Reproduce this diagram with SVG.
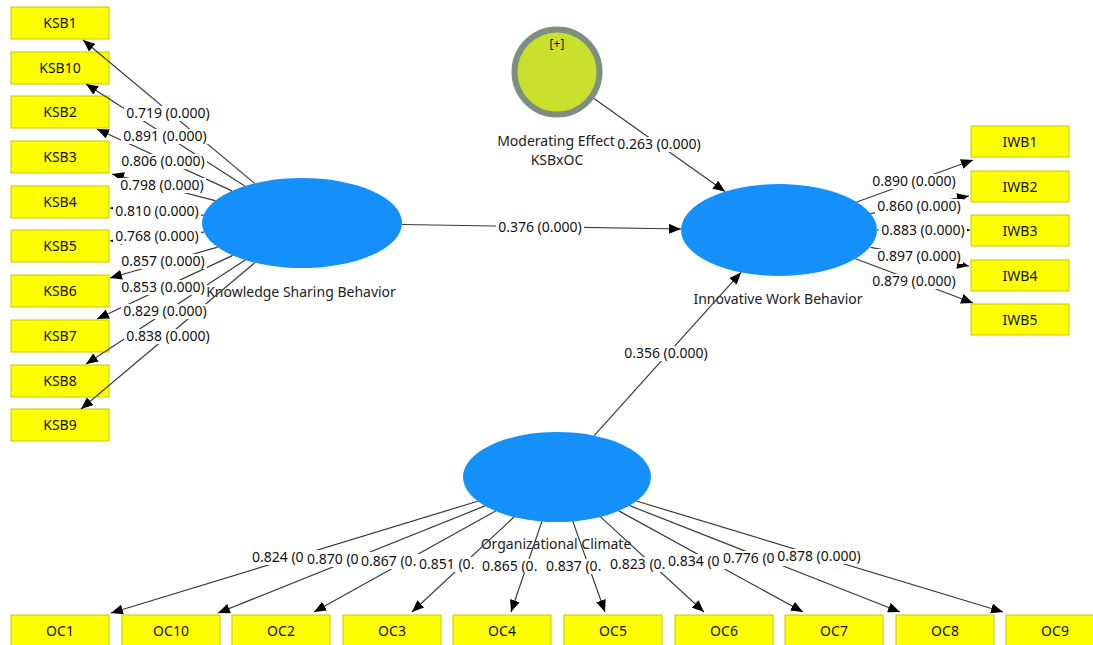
<svg xmlns="http://www.w3.org/2000/svg" width="1093" height="645" viewBox="0 0 1093 645">
<style>
text{font-family:"Noto Sans","Open Sans","DejaVu Sans",sans-serif;font-size:14px;fill:#111}
.box{fill:#ffff00;stroke:#c8c800;stroke-width:1}
.lv{fill:#1590fa}
.bt{text-anchor:middle}
.cl{text-anchor:middle;fill:#222}
.ln{stroke:#3a3a3a;stroke-width:1.2;fill:none;marker-end:url(#ah)}
.bg{fill:#fff}
.lt{text-anchor:middle}
</style>
<defs>
<marker id="ah" markerUnits="userSpaceOnUse" markerWidth="12" markerHeight="10" refX="12" refY="5" orient="auto">
<path d="M0,0 L12,5 L0,10 z" fill="#000"/>
</marker>
</defs>
<rect width="1093" height="645" fill="#fff"/>
<g id="KSB1"><rect class="box" x="11" y="7" width="98" height="32"/><text class="bt" x="60" y="28">KSB1</text></g>
<g id="KSB10"><rect class="box" x="11" y="52" width="98" height="32"/><text class="bt" x="60" y="73">KSB10</text></g>
<g id="KSB2"><rect class="box" x="11" y="96" width="98" height="32"/><text class="bt" x="60" y="117">KSB2</text></g>
<g id="KSB3"><rect class="box" x="11" y="141" width="98" height="32"/><text class="bt" x="60" y="162">KSB3</text></g>
<g id="KSB4"><rect class="box" x="11" y="186" width="98" height="32"/><text class="bt" x="60" y="207">KSB4</text></g>
<g id="KSB5"><rect class="box" x="11" y="230" width="98" height="32"/><text class="bt" x="60" y="251">KSB5</text></g>
<g id="KSB6"><rect class="box" x="11" y="275" width="98" height="32"/><text class="bt" x="60" y="296">KSB6</text></g>
<g id="KSB7"><rect class="box" x="11" y="320" width="98" height="32"/><text class="bt" x="60" y="341">KSB7</text></g>
<g id="KSB8"><rect class="box" x="11" y="365" width="98" height="32"/><text class="bt" x="60" y="386">KSB8</text></g>
<g id="KSB9"><rect class="box" x="11" y="409" width="98" height="32"/><text class="bt" x="60" y="430">KSB9</text></g>
<g id="IWB1"><rect class="box" x="971" y="126" width="98" height="31"/><text class="bt" x="1020" y="147">IWB1</text></g>
<g id="IWB2"><rect class="box" x="971" y="171" width="98" height="31"/><text class="bt" x="1020" y="192">IWB2</text></g>
<g id="IWB3"><rect class="box" x="971" y="215" width="98" height="31"/><text class="bt" x="1020" y="236">IWB3</text></g>
<g id="IWB4"><rect class="box" x="971" y="260" width="98" height="31"/><text class="bt" x="1020" y="281">IWB4</text></g>
<g id="IWB5"><rect class="box" x="971" y="304" width="98" height="31"/><text class="bt" x="1020" y="325">IWB5</text></g>
<g id="OC1"><rect class="box" x="11" y="615" width="98" height="32"/><text class="bt" x="60" y="636">OC1</text></g>
<g id="OC10"><rect class="box" x="122" y="615" width="98" height="32"/><text class="bt" x="171" y="636">OC10</text></g>
<g id="OC2"><rect class="box" x="232" y="615" width="98" height="32"/><text class="bt" x="281" y="636">OC2</text></g>
<g id="OC3"><rect class="box" x="343" y="615" width="98" height="32"/><text class="bt" x="392" y="636">OC3</text></g>
<g id="OC4"><rect class="box" x="453" y="615" width="98" height="32"/><text class="bt" x="502" y="636">OC4</text></g>
<g id="OC5"><rect class="box" x="564" y="615" width="98" height="32"/><text class="bt" x="613" y="636">OC5</text></g>
<g id="OC6"><rect class="box" x="675" y="615" width="98" height="32"/><text class="bt" x="724" y="636">OC6</text></g>
<g id="OC7"><rect class="box" x="785" y="615" width="98" height="32"/><text class="bt" x="834" y="636">OC7</text></g>
<g id="OC8"><rect class="box" x="896" y="615" width="98" height="32"/><text class="bt" x="945" y="636">OC8</text></g>
<g id="OC9"><rect class="box" x="1006" y="615" width="98" height="32"/><text class="bt" x="1055" y="636">OC9</text></g>
<g id="KSB"><ellipse class="lv" cx="302" cy="223" rx="100" ry="45"/><text class="cl" x="301" y="297">Knowledge Sharing Behavior</text></g>
<g id="IWB"><ellipse class="lv" cx="779" cy="230" rx="98" ry="46"/><text class="cl" x="778" y="304">Innovative Work Behavior</text></g>
<g id="OC"><ellipse class="lv" cx="557" cy="477" rx="94" ry="45"/><text class="cl" x="556" y="549">Organizational Climate</text></g>
<g id="KSBxOC"><circle cx="557" cy="72" r="42.5" fill="#c9e02c" stroke="#7f8f7f" stroke-width="6"/><text class="bt" x="557" y="48" style="font-size:12px">[+]</text><text class="cl" x="556" y="146">Moderating Effect</text><text class="cl" x="557" y="165">KSBxOC</text></g>
<g id="connectors">
<line class="ln" x1="254.6" y1="183.4" x2="83" y2="40"/>
<line class="ln" x1="244.7" y1="186.1" x2="86" y2="84"/>
<line class="ln" x1="232" y1="190.9" x2="97" y2="129"/>
<line class="ln" x1="215.2" y1="200.6" x2="112" y2="174"/>
<line class="ln" x1="203.5" y1="215.3" x2="110" y2="208"/>
<line class="ln" x1="204.1" y1="232.2" x2="110" y2="241"/>
<line class="ln" x1="217.6" y1="247.2" x2="110" y2="278"/>
<line class="ln" x1="232.7" y1="255.4" x2="97" y2="319"/>
<line class="ln" x1="245.2" y1="260" x2="86" y2="364"/>
<line class="ln" x1="254.8" y1="262.7" x2="81" y2="409"/>
<line class="ln" x1="856.7" y1="202" x2="973" y2="160"/>
<line class="ln" x1="870.6" y1="213.6" x2="969" y2="196"/>
<line class="ln" x1="877" y1="230" x2="970" y2="230"/>
<line class="ln" x1="870.6" y1="247.3" x2="969" y2="266"/>
<line class="ln" x1="855.5" y1="258.8" x2="973" y2="303"/>
<line class="ln" x1="477.7" y1="501.2" x2="111" y2="613"/>
<line class="ln" x1="485" y1="505.9" x2="218" y2="613"/>
<line class="ln" x1="495.6" y1="511.1" x2="314" y2="612"/>
<line class="ln" x1="514" y1="517" x2="412" y2="612"/>
<line class="ln" x1="541.9" y1="521.4" x2="511" y2="612"/>
<line class="ln" x1="572.8" y1="521.4" x2="605" y2="612"/>
<line class="ln" x1="600.5" y1="516.9" x2="704" y2="612"/>
<line class="ln" x1="618.8" y1="510.9" x2="803" y2="612"/>
<line class="ln" x1="629.6" y1="505.6" x2="900" y2="612"/>
<line class="ln" x1="636.4" y1="501" x2="1003" y2="612"/>
<line class="ln" x1="402" y1="224.5" x2="681" y2="229"/>
<line class="ln" x1="594" y1="98.4" x2="725" y2="191.6"/>
<line class="ln" x1="594.2" y1="435.7" x2="741" y2="272.4"/>
<g id="labels">
<rect class="bg" x="124" y="106" width="88" height="15"/><text class="lt" x="168" y="118">0.719 (0.000)</text>
<rect class="bg" x="121" y="129" width="88" height="15"/><text class="lt" x="165" y="141">0.891 (0.000)</text>
<rect class="bg" x="119" y="154" width="88" height="15"/><text class="lt" x="163" y="166">0.806 (0.000)</text>
<rect class="bg" x="118" y="178" width="88" height="15"/><text class="lt" x="162" y="190">0.798 (0.000)</text>
<rect class="bg" x="113" y="204" width="88" height="15"/><text class="lt" x="157" y="216">0.810 (0.000)</text>
<rect class="bg" x="113" y="229" width="88" height="15"/><text class="lt" x="157" y="241">0.768 (0.000)</text>
<rect class="bg" x="119" y="254" width="88" height="15"/><text class="lt" x="163" y="266">0.857 (0.000)</text>
<rect class="bg" x="119" y="280" width="88" height="15"/><text class="lt" x="163" y="292">0.853 (0.000)</text>
<rect class="bg" x="121" y="304" width="88" height="15"/><text class="lt" x="165" y="316">0.829 (0.000)</text>
<rect class="bg" x="124" y="329" width="88" height="15"/><text class="lt" x="168" y="341">0.838 (0.000)</text>
<rect class="bg" x="870" y="174" width="88" height="15"/><text class="lt" x="914" y="186">0.890 (0.000)</text>
<rect class="bg" x="875" y="199" width="88" height="15"/><text class="lt" x="919" y="211">0.860 (0.000)</text>
<rect class="bg" x="879" y="223" width="88" height="15"/><text class="lt" x="923" y="235">0.883 (0.000)</text>
<rect class="bg" x="875" y="249" width="88" height="15"/><text class="lt" x="919" y="261">0.897 (0.000)</text>
<rect class="bg" x="870" y="274" width="88" height="15"/><text class="lt" x="914" y="286">0.879 (0.000)</text>
<rect class="bg" x="250" y="550" width="88" height="15"/><text x="252" y="562">0.824 (0</text>
<rect class="bg" x="305" y="552" width="88" height="15"/><text x="307" y="564">0.870 (0</text>
<rect class="bg" x="359" y="554" width="88" height="15"/><text x="361" y="566">0.867 (0.</text>
<rect class="bg" x="417" y="557" width="88" height="15"/><text x="419" y="569">0.851 (0.</text>
<rect class="bg" x="480" y="559" width="88" height="15"/><text x="482" y="571">0.865 (0.</text>
<rect class="bg" x="544" y="559" width="88" height="15"/><text x="546" y="571">0.837 (0.</text>
<rect class="bg" x="608" y="557" width="88" height="15"/><text x="610" y="569">0.823 (0.</text>
<rect class="bg" x="666" y="554" width="88" height="15"/><text x="668" y="566">0.834 (0</text>
<rect class="bg" x="721" y="551" width="88" height="15"/><text x="723" y="563">0.776 (0</text>
<rect class="bg" x="775" y="549" width="88" height="15"/><text class="lt" x="819" y="561">0.878 (0.000)</text>
<rect class="bg" x="496" y="220" width="88" height="15"/><text class="lt" x="540" y="232">0.376 (0.000)</text>
<rect class="bg" x="615" y="137" width="88" height="15"/><text class="lt" x="659" y="149">0.263 (0.000)</text>
<rect class="bg" x="622" y="346" width="88" height="15"/><text class="lt" x="666" y="358">0.356 (0.000)</text>
</g>
</g>
</svg>
